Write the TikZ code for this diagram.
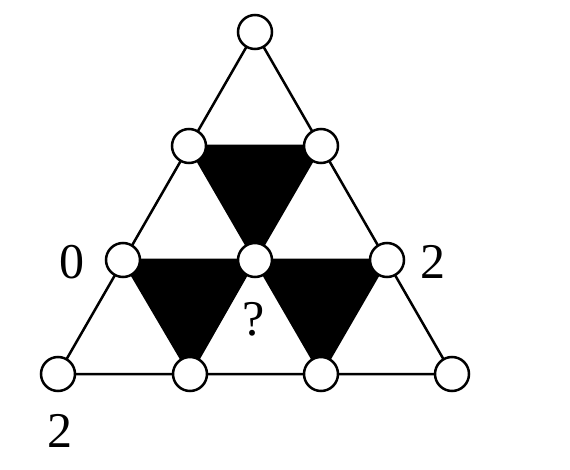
\documentclass[tikz,border=0pt]{standalone}
\usepackage{fontspec}
\setmainfont{Liberation Serif}
\begin{document}
\begin{tikzpicture}[x=1pt,y=-1pt,
  pt/.style={circle,draw=black,fill=white,line width=2.5pt,minimum size=34pt,inner sep=0pt},
  edge/.style={line width=2.5pt},
  lab/.style={font=\fontsize{50}{50}\selectfont,inner sep=0pt}]
\useasboundingbox (0,0) rectangle (570,470);
\coordinate (a) at (255,32);
\coordinate (b1) at (189,146);
\coordinate (b2) at (321,146);
\coordinate (c1) at (123,260);
\coordinate (c2) at (255,260);
\coordinate (c3) at (387,260);
\coordinate (d1) at (58,374);
\coordinate (d2) at (190,374);
\coordinate (d3) at (321,374);
\coordinate (d4) at (452,374);
\fill (b1) -- (b2) -- (c2) -- cycle;
\fill (c1) -- (c2) -- (d2) -- cycle;
\fill (c2) -- (c3) -- (d3) -- cycle;
\draw[edge] (a) -- (d1) -- (d4) -- cycle;
\draw[edge] (b1) -- (b2) -- (c2) -- cycle;
\draw[edge] (c1) -- (c3) -- (d3) -- (c2) -- (d2) -- cycle;
\foreach \n in {a,b1,b2,c1,c2,c3,d1,d2,d3,d4}
  \node[pt] (n\n) at (\n) {};
\node[lab] (l0) at (72,262) {0};
\node[lab] (l2r) at (433,262) {2};
\node[lab] (l2b) at (60,431) {2};
\node[lab] (lq) at (254,319) {?};
\end{tikzpicture}
\end{document}
